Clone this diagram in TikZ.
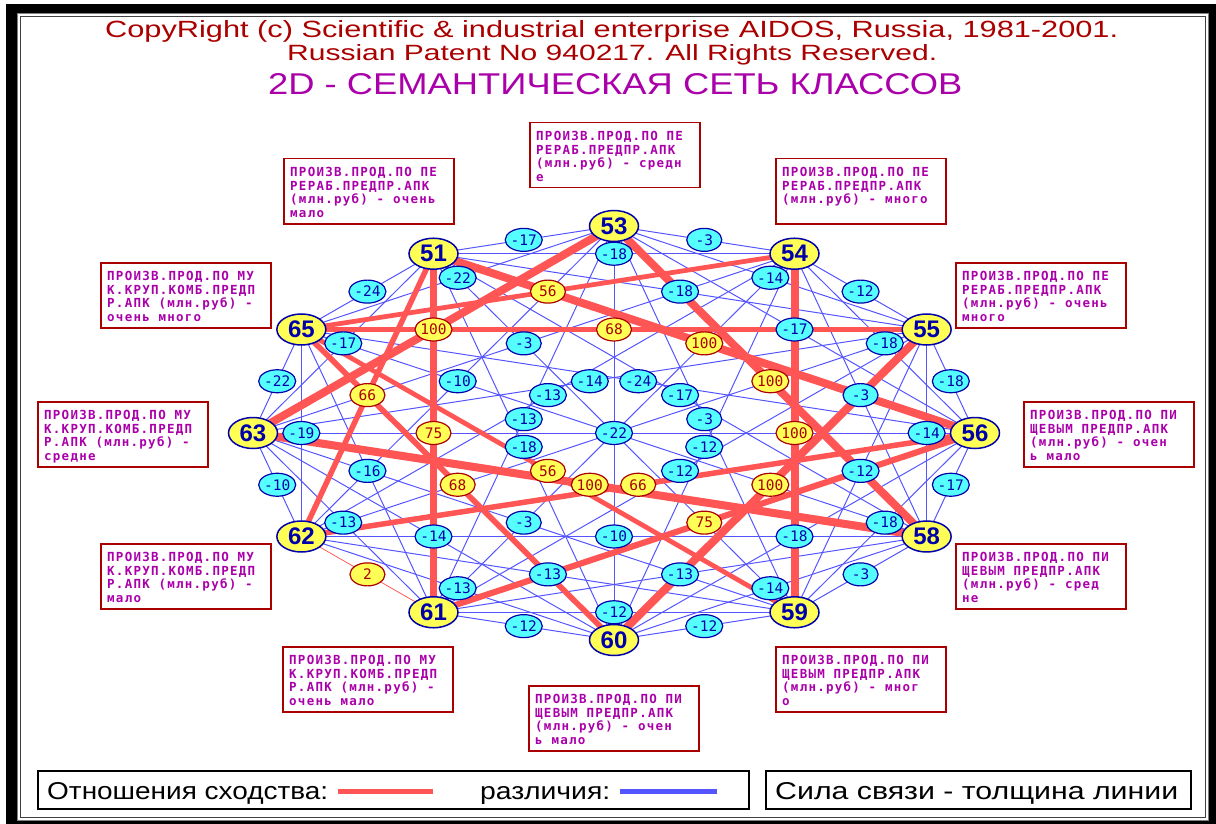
\documentclass[tikz,border=0pt]{standalone}
\usepackage{fontspec}
\usepackage{graphicx}
\setmainfont{Liberation Sans}
\newfontfamily\boxfont[LetterSpace=10, BoldFont={DejaVu Sans Mono Bold}]{DejaVu Sans Mono}
\newfontfamily\labfont{DejaVu Sans Mono}
\usetikzlibrary{shapes.geometric}

\definecolor{dred}{HTML}{AA0000}
\definecolor{dblue}{HTML}{0000AA}
\definecolor{dmag}{HTML}{AA00AA}
\definecolor{lred}{HTML}{FF5555}
\definecolor{lblue}{HTML}{5555FF}
\definecolor{lyel}{HTML}{FFFF55}
\definecolor{lcyan}{HTML}{55FFFF}

\tikzset{
  cls/.style={ellipse, draw=dblue, line width=1.5pt, fill=lyel, minimum width=49pt, minimum height=31pt,
    inner sep=0pt, text=dblue, font=\bfseries\fontsize{24}{24}\selectfont},
  difflab/.style={ellipse, draw=dblue, line width=1.2pt, fill=lcyan, minimum width=35pt, minimum height=23pt,
    inner sep=0pt, text=dblue, font=\labfont\fontsize{14.5}{14.5}\selectfont},
  simlab/.style={difflab, draw=dred, fill=lyel, text=dred},
  difflink/.style={lblue, line width=1pt},
  simlink/.style={lred},
  infobox/.style={draw=dred, line width=1.5pt, minimum width=170pt, minimum height=65pt, anchor=north west, inner sep=0pt},
  infotext/.style={anchor=north west, inner sep=0pt, align=left, text=dmag, font=\boxfont\bfseries\fontsize{12.5}{13.7}\selectfont},
  legbox/.style={draw=black, line width=1.5pt, anchor=north west, inner sep=0pt}
}

% dissimilarity links: from/to/value
\def\difflist{53/54/-3,54/55/-12,55/56/-18,56/58/-17,58/59/-3,59/60/-12,60/61/-12,62/63/-10,63/65/-22,65/51/-24,51/53/-17,%
53/55/-14,54/56/-18,55/58/-14,56/59/-18,58/60/-14,59/61/-12,60/62/-13,61/63/-13,62/65/-19,63/51/-17,65/53/-22,51/54/-18,%
53/56/-17,54/58/-3,55/59/-12,56/60/-18,58/61/-13,59/62/-13,60/63/-14,61/65/-16,51/55/-18,%
58/62/-10,59/63/-3,62/53/-10,63/54/-3,%
53/59/-3,54/60/-12,55/61/-12,60/51/-18,61/53/-13,62/54/-13,63/55/-14,65/56/-24,51/58/-17,%
53/60/-22}
% similarity links
\def\simlist{61/62/2,62/51/66,63/53/100,65/54/56,53/58/100,54/59/100,55/60/100,56/61/75,60/65/68,%
61/51/75,65/55/68,51/56/100,56/62/66,58/63/100,59/65/56}

\begin{document}
\begin{tikzpicture}[x=1pt, y=-1pt]
  \useasboundingbox (0,0) rectangle (1216,824);
  % Frame
  \fill[white] (0,0) rectangle (1216,824);
  \fill[black] (6,4) rectangle (1216,824);
  \fill[white] (17,13) rectangle (1209,821);
  \draw[gray, line width=1pt] (17.5,13.5) rectangle (1208.5,820.5);
  \draw[black!75, line width=1pt] (20.5,16.5) rectangle (1205.5,817.5);

  % Title
  \node[anchor=base west, inner sep=0pt, text=dred] (copy) at (105,38)
    {\resizebox{1013pt}{17pt}{CopyRight (c) Scientific \& industrial enterprise AIDOS, Russia, 1981-2001.}};
  \node[anchor=base west, inner sep=0pt, text=dred] (patent) at (287,61)
    {\resizebox{650pt}{16pt}{Russian Patent No 940217. All Rights Reserved.}};
  \node[anchor=base west, inner sep=0pt, text=dmag] (title) at (268,95)
    {\resizebox{694pt}{21pt}{2D - СЕМАНТИЧЕСКАЯ СЕТЬ КЛАССОВ}};

  % Classes on an ellipse
  \foreach \n/\k in {53/0,54/1,55/2,56/3,58/4,59/5,60/6,61/7,62/8,63/9,65/10,51/11}
    \coordinate (c\n) at ({614+361*cos(90-30*\k)},{433-207*sin(90-30*\k)});

  % Links
  \foreach \a/\b/\v in \difflist
    \draw[difflink] (c\a) -- (c\b);
  \foreach \a/\b in {54/61,55/62,56/63,58/65,59/51}
    \draw[difflink] (c\a) -- (c\b);
  \foreach \a/\b/\v in \simlist
    \draw[simlink, line width={(0.6+\v*0.074)*1pt}] (c\a) -- (c\b);

  % Link values
  \foreach \a/\b/\v in \difflist
    \path (c\a) -- node[difflab] (d\a-\b) {\v} (c\b);
  \foreach \a/\b/\v in \simlist
    \path (c\a) -- node[simlab] (s\a-\b) {\v} (c\b);

  \foreach \n in {53,54,55,56,58,59,60,61,62,63,65,51}
    \node[cls] (n\n) at (c\n) {\n};

  % Class descriptions
  \foreach \id/\bx/\by/\txt in {%
    51/283/158/{ПРОИЗВ.ПРОД.ПО ПЕ\\РЕРАБ.ПРЕДПР.АПК\\(млн.руб) - очень\\мало},
    53/529/122/{ПРОИЗВ.ПРОД.ПО ПЕ\\РЕРАБ.ПРЕДПР.АПК\\(млн.руб) - средн\\е},
    54/775/158/{ПРОИЗВ.ПРОД.ПО ПЕ\\РЕРАБ.ПРЕДПР.АПК\\(млн.руб) - много},
    55/955/262/{ПРОИЗВ.ПРОД.ПО ПЕ\\РЕРАБ.ПРЕДПР.АПК\\(млн.руб) - очень\\много},
    56/1023/401/{ПРОИЗВ.ПРОД.ПО ПИ\\ЩЕВЫМ ПРЕДПР.АПК\\(млн.руб) - очен\\ь мало},
    58/955/543/{ПРОИЗВ.ПРОД.ПО ПИ\\ЩЕВЫМ ПРЕДПР.АПК\\(млн.руб) - сред\\не},
    59/775/646/{ПРОИЗВ.ПРОД.ПО ПИ\\ЩЕВЫМ ПРЕДПР.АПК\\(млн.руб) - мног\\о},
    60/528/685/{ПРОИЗВ.ПРОД.ПО ПИ\\ЩЕВЫМ ПРЕДПР.АПК\\(млн.руб) - очен\\ь мало},
    61/282/646/{ПРОИЗВ.ПРОД.ПО МУ\\К.КРУП.КОМБ.ПРЕДП\\Р.АПК (млн.руб) -\\очень мало},
    62/100/543/{ПРОИЗВ.ПРОД.ПО МУ\\К.КРУП.КОМБ.ПРЕДП\\Р.АПК (млн.руб) -\\мало},
    63/37/401/{ПРОИЗВ.ПРОД.ПО МУ\\К.КРУП.КОМБ.ПРЕДП\\Р.АПК (млн.руб) -\\средне},
    65/100/262/{ПРОИЗВ.ПРОД.ПО МУ\\К.КРУП.КОМБ.ПРЕДП\\Р.АПК (млн.руб) -\\очень много}}
  {
    \node[infobox] (b\id) at (\bx,\by) {};
    \node[infotext] (t\id) at ([xshift=7pt, yshift=-9pt]b\id.north west) {\txt};
  }

  % Legend
  \node[legbox, minimum width=711pt, minimum height=38pt] (leg) at (37,770) {};
  \node[legbox, minimum width=425pt, minimum height=38pt] (force) at (765,770) {};
  \node[anchor=base west, inner sep=0pt] (simtext) at (47,799) {\resizebox{281pt}{17pt}{Отношения сходства:}};
  \node[anchor=base west, inner sep=0pt] (difftext) at (480,799) {\resizebox{130pt}{13pt}{различия:}};
  \node[anchor=base west, inner sep=0pt] (forcetext) at (775,799) {\resizebox{403pt}{17pt}{Сила связи - толщина линии}};
  \draw[lred, line width=5pt] (338,791) -- (433,791);
  \draw[lblue, line width=5pt] (620,791) -- (717,791);
\end{tikzpicture}
\end{document}
